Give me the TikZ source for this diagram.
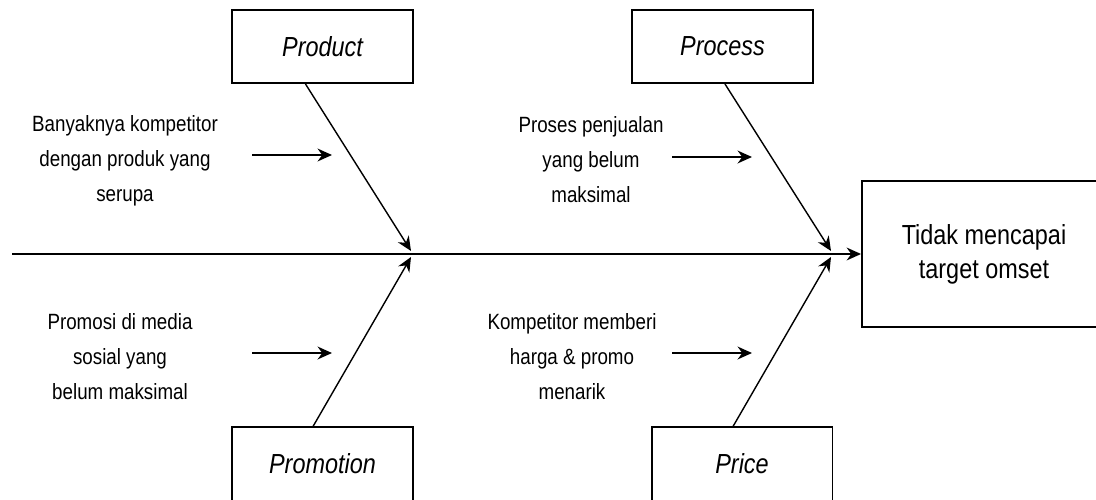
\documentclass[tikz,border=0pt]{standalone}
\usepackage{fontspec}
\setmainfont{Liberation Sans}
\newfontfamily\diagfont[FakeStretch=0.85]{Liberation Sans}
\usetikzlibrary{positioning,arrows.meta,calc}

\begin{document}
\begin{tikzpicture}[x=0.025cm,y=-0.025cm,>={Stealth[length=0.36cm,width=0.32cm]},line width=1pt]
  \tikzstyle{cause}=[draw,line width=1.3pt,minimum width=4.52cm,minimum height=1.83cm,inner sep=0pt,font={\diagfont\itshape\fontsize{19.6}{22}\selectfont}]
  \tikzstyle{effect}=[draw,line width=1.3pt,minimum width=6.1cm,minimum height=3.65cm,align=center,font={\diagfont\fontsize{19.6}{24}\selectfont}]
  \tikzstyle{reason}=[align=center,font={\diagfont\fontsize{15.7}{24.9}\selectfont}]
  \tikzstyle{bone}=[->,line width=1pt]

  \useasboundingbox (0,0) rectangle (1096,499);

  % categories
  \node[cause] (product) at (322.5,46.5) {Product};
  \node[cause] (process) at (722.5,46.5) {Process};
  \node[cause] (promotion) at (322.5,464) {Promotion};
  \node[cause] (price) at (742,464) {Price};

  \node[effect] (target) at (984,254) {Tidak mencapai\\target omset};

  % reasons
  \node[reason] (r1) at (125,161) {Banyaknya kompetitor\\dengan produk yang\\serupa};
  \node[reason] (r2) at (591,160) {Proses penjualan\\yang belum\\maksimal};
  \node[reason] (r3) at (120,357) {Promosi di media\\sosial yang\\belum maksimal};
  \node[reason] (r4) at (572,357) {Kompetitor memberi\\harga \& promo\\menarik};

  % spine
  \coordinate (tail) at (12,254);
  \coordinate (jl) at (411,254);
  \coordinate (jr) at (831,254);
  \draw[->,line width=1.4pt] (tail) -- (target.west);

  \draw[bone] ($(product.south)+(-17,0)$) -- ($(jl)+(0,-3)$);
  \draw[bone] ($(promotion.north)+(-9.5,0)$) -- ($(jl)+(0,3)$);
  \draw[bone] ($(process.south)+(2.5,0)$) -- ($(jr)+(0,-3)$);
  \draw[bone] ($(price.north)+(-9,0)$) -- ($(jr)+(0,3)$);

  % small arrows
  \foreach \n/\x/\y in {1/252/155, 2/672/157, 3/252/353, 4/672/353}{
    \coordinate (s\n) at (\x,\y);
    \coordinate (e\n) at (\x+80,\y);
    \draw[->,line width=1.4pt] (s\n) -- (e\n);
  }

\end{tikzpicture}
\end{document}
